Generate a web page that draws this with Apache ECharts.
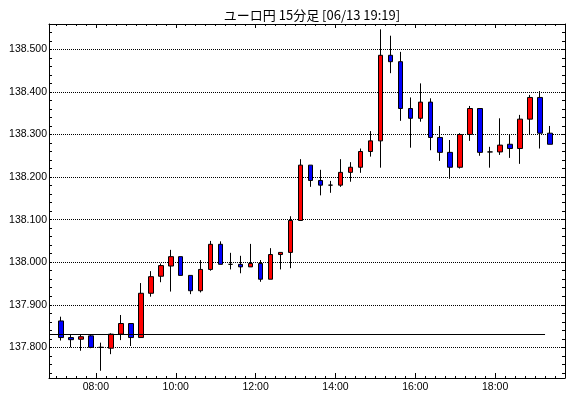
<!DOCTYPE html>
<html>
<head>
<meta charset="utf-8">
<script src="https://cdn.jsdelivr.net/npm/echarts@6/dist/echarts.min.js"></script>
<style>
html, body { margin: 0; padding: 0; background: #fff; }
#chartMain { width: 570px; height: 398px; }
</style>
</head>
<body>
<div id="chartMain"></div>
<script>
var titleText = 'ユーロ円 15分足 [06/13 19:19]';

// 15分足の時刻
var times = ['07:00','07:15','07:30','07:45','08:00','08:15','08:30','08:45','09:00','09:15',
	'09:30','09:45','10:00','10:15','10:30','10:45','11:00','11:15','11:30','11:45',
	'12:00','12:15','12:30','12:45','13:00','13:15','13:30','13:45','14:00','14:15',
	'14:30','14:45','15:00','15:15','15:30','15:45','16:00','16:15','16:30','16:45',
	'17:00','17:15','17:30','17:45','18:00','18:15','18:30','18:45','19:00','19:15'];
var opens = [137.862,137.823,137.819,137.827,137.800,137.798,137.831,137.856,137.823,137.927,
	137.967,137.991,138.013,137.969,137.933,137.983,138.042,137.995,137.995,137.989,
	137.997,137.960,138.018,138.023,138.098,138.228,138.192,138.181,138.181,138.211,
	138.223,138.260,138.285,138.486,138.471,138.361,138.338,138.376,138.293,138.258,
	138.223,138.300,138.361,138.259,138.259,138.277,138.267,138.336,138.387,138.303];
var closes = [137.823,137.818,137.825,137.800,137.800,137.831,137.856,137.823,137.927,137.966,
	137.992,138.013,137.969,137.933,137.983,138.042,137.995,137.995,137.989,137.997,
	137.960,138.018,138.023,138.098,138.228,138.192,138.181,138.181,138.211,138.223,
	138.260,138.285,138.486,138.471,138.361,138.338,138.376,138.293,138.258,138.223,
	138.300,138.361,138.258,138.259,138.275,138.267,138.336,138.387,138.303,138.277];
var highs = [137.872,137.831,137.829,137.831,137.811,137.833,137.876,137.856,137.951,137.979,
	137.997,138.029,138.013,137.969,138.005,138.050,138.049,138.022,138.015,138.043,
	138.005,138.033,138.023,138.108,138.242,138.228,138.217,138.191,138.242,138.235,
	138.267,138.308,138.547,138.532,138.494,138.387,138.420,138.385,138.320,138.287,
	138.303,138.367,138.361,138.271,138.338,138.300,138.346,138.393,138.402,138.320];
var lows = [137.816,137.800,137.792,137.798,137.745,137.784,137.817,137.803,137.823,137.919,
	137.953,137.931,137.969,137.925,137.929,137.980,137.995,137.983,137.974,137.989,
	137.954,137.960,137.983,137.986,138.098,138.177,138.157,138.163,138.177,138.189,
	138.210,138.248,138.222,138.444,138.332,138.269,138.330,138.263,138.238,138.196,
	138.220,138.285,138.250,138.222,138.252,138.245,138.231,138.300,138.267,138.277];

var xLabels = ['08:00','10:00','12:00','14:00','16:00','18:00'];
var yLabels = ['137.800','137.900','138.000','138.100','138.200','138.300','138.400','138.500'];

// 基準ライン
var refLevel = 137.830;
var refLineEnd = '19:15';

function toMin(t) {
	var p = t.split(':');
	return parseInt(p[0], 10) * 60 + parseInt(p[1], 10);
}

var xMin = 409.5, xMax = 1185;      // 06:49.5 - 19:45 (分)
var yMin = 137.728, yMax = 138.5595;

/*** 目盛り位置 ***/
var xMajor = xLabels.map(toMin);
var xMinor = [];
for (var m = 420; m < xMax; m += 15) {
	if (xMajor.indexOf(m) < 0) xMinor.push(m);
}
var yMajor = yLabels.map(function(s) { return parseFloat(s); });
var yAll = [];
var yMinor = [];
for (var k = 13774; k <= 13854; k += 2) {
	var v = k / 100;
	yAll.push(v);
	if (k % 10 !== 0) yMinor.push(v);
}

var candleData = times.map(function(t, i) {
	return [toMin(t) + 7.5, opens[i], closes[i], lows[i], highs[i]];
});

var black = '#000';
var labelFont = { color: black, fontFamily: 'Liberation Sans', fontSize: 10.5 };

function xAxisDef(pos, ticks, len, showLine, showLabel) {
	return {
		type: 'value', position: pos, min: xMin, max: xMax,
		axisLine: { show: showLine, onZero: false, lineStyle: { color: black, width: 1 } },
		axisTick: { show: true, inside: true, length: len, customValues: ticks, lineStyle: { color: black } },
		axisLabel: showLabel ? Object.assign({
			show: true, margin: 4, customValues: ticks,
			formatter: function(val) { return xLabels[xMajor.indexOf(val)]; }
		}, labelFont) : { show: false },
		splitLine: { show: false }
	};
}

function yAxisDef(pos, ticks, showLine, showLabel, showSplit) {
	return {
		type: 'value', position: pos, min: yMin, max: yMax,
		axisLine: { show: showLine, onZero: false, lineStyle: { color: black, width: 1 } },
		axisTick: { show: true, inside: true, length: 3, customValues: ticks, lineStyle: { color: black } },
		axisLabel: showLabel ? Object.assign({
			show: true, margin: 2, customValues: ticks,
			formatter: function(val) { return val.toFixed(3); }
		}, labelFont) : { show: false },
		splitLine: { show: showSplit, lineStyle: { color: black, width: 1, type: [1, 1] } }
	};
}

var myChart = echarts.init(document.getElementById('chartMain'));
var option = {
	animation: false,
	backgroundColor: '#fff',
	title: {
		text: titleText,
		left: 307,
		top: 4,
		textAlign: 'center',
		textStyle: { color: black, fontSize: 13, fontWeight: 'normal', fontFamily: 'Noto Sans CJK JP' }
	},
	grid: { left: 49, right: 5, top: 24, bottom: 20 },
	xAxis: [
		xAxisDef('bottom', xMajor, 5, true, true),
		xAxisDef('bottom', xMinor, 2, false, false),
		xAxisDef('top', xMajor, 4, true, false),
		xAxisDef('top', xMinor, 2, false, false)
	],
	yAxis: [
		yAxisDef('left', yMajor, true, true, true),
		yAxisDef('left', yMinor, false, false, false),
		yAxisDef('right', yAll, true, false, false)
	],
	series: [{
		type: 'candlestick',
		xAxisIndex: 0,
		yAxisIndex: 0,
		data: candleData,
		encode: { x: 0, y: [1, 2, 3, 4] },
		barWidth: 5,
		silent: true,
		itemStyle: {
			color: '#ff0000',
			color0: '#0000ff',
			borderColor: black,
			borderColor0: black,
			borderColorDoji: black,
			borderWidth: 1
		},
		markLine: {
			silent: true,
			symbol: 'none',
			label: { show: false },
			lineStyle: { color: black, width: 1, type: 'solid' },
			data: [[
				{ coord: [xMin, refLevel] },
				{ coord: [toMin(refLineEnd), refLevel] }
			]]
		}
	}]
};
myChart.setOption(option);
</script>
</body>
</html>
